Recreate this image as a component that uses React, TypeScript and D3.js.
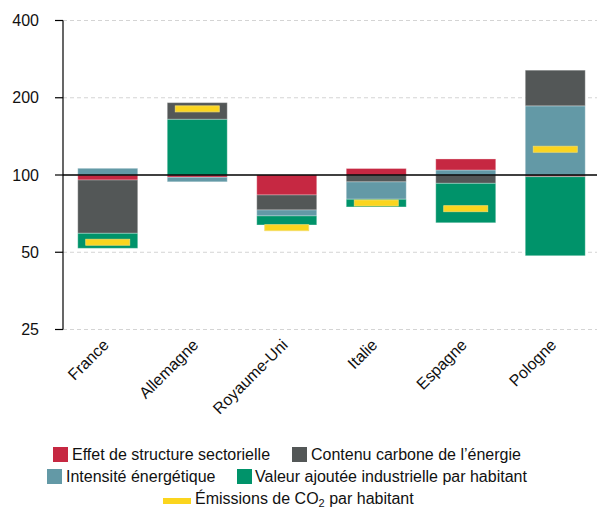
import React from "react";
import * as d3 from "d3";

const countries = ["France", "Allemagne", "Royaume-Uni", "Italie", "Espagne", "Pologne"];
// factor indices (100 = no change)
const structure = [95.6, 98, 83.6, 106, 110.4, 98.5];
const carbone = [62.0, 116, 87.4, 94, 92.8, 137.7];
const intensite = [106.2, 96, 94.8, 85.6, 104.6, 186];
const valeur = [87.4, 165, 92.2, 93.3, 70.2, 49.2];
const emissions = [54.7, 181, 62.3, 77.8, 73.9, 126];

const yTicks = [25, 50, 100, 200, 400];

const seriesNames = [
  "Effet de structure sectorielle",
  "Contenu carbone de l’énergie",
  "Intensité énergétique",
  "Valeur ajoutée industrielle par habitant",
];
const seriesColors = ["#c62842", "#535757", "#6399a6", "#00936a"];
const yellow = "#fbd51e";

const W = 597;
const H = 508;
const axisX = 63;

export default function App() {
  const y = d3.scaleLog().domain([25, 400]).range([329.5, 20.5]);
  const x = d3
    .scaleBand<string>()
    .domain(countries)
    .range([axisX, 600])
    .paddingInner(0.33)
    .paddingOuter(0.165);
  const bw = x.bandwidth();

  const series = [structure, carbone, intensite, valeur];

  const segments: { key: string; x: number; y0: number; y1: number; color: string }[] = [];
  countries.forEach((c, i) => {
    let down = 100;
    [0, 1, 2, 3].forEach((s) => {
      const v = series[s][i];
      if (v < 100) {
        const nxt = (down * v) / 100;
        segments.push({ key: `${c}-${s}`, x: x(c)!, y0: y(down), y1: y(nxt), color: seriesColors[s] });
        down = nxt;
      }
    });
    let up = 100;
    [3, 2, 1, 0].forEach((s) => {
      const v = series[s][i];
      if (v >= 100) {
        const nxt = (up * v) / 100;
        segments.push({ key: `${c}-${s}`, x: x(c)!, y0: y(nxt), y1: y(up), color: seriesColors[s] });
        up = nxt;
      }
    });
  });

  const font = "'Liberation Sans', Arial, Helvetica, sans-serif";
  const fs = 16;

  return (
    <svg
      width={W}
      height={H}
      style={{ position: "absolute", left: 0, top: 0, display: "block", fontFamily: font }}
    >
      <rect width={W} height={H} fill="#fff" />
      {yTicks
        .filter((t) => t !== 100)
        .map((t) => (
          <line
            key={`g${t}`}
            x1={axisX}
            x2={W}
            y1={y(t)}
            y2={y(t)}
            stroke="#d4d4d4"
            strokeWidth={1}
            strokeDasharray="4,3"
          />
        ))}
      {segments.map((s) => (
        <rect
          key={s.key}
          x={s.x}
          y={Math.min(s.y0, s.y1)}
          width={bw}
          height={Math.abs(s.y1 - s.y0)}
          fill={s.color}
          stroke="#ffffff"
          strokeOpacity={0.3}
          strokeWidth={1}
        />
      ))}
      {countries.map((c, i) => (
        <rect
          key={`e${c}`}
          x={x(c)! + bw / 2 - 22}
          y={y(emissions[i]) - 3}
          width={44}
          height={6}
          fill={yellow}
          stroke="#f3dc6a"
          strokeWidth={0.8}
        />
      ))}
      <line x1={axisX} x2={W} y1={y(100)} y2={y(100)} stroke="#000" strokeWidth={1.3} />
      <line x1={axisX} x2={axisX} y1={y(400)} y2={y(25)} stroke="#000" strokeWidth={1.2} />
      {yTicks.map((t) => (
        <g key={`t${t}`}>
          <line x1={55} x2={axisX} y1={y(t)} y2={y(t)} stroke="#000" strokeWidth={1.2} />
          <text x={39} y={y(t)} dy="0.35em" textAnchor="end" fontSize={fs} fill="#111">
            {t}
          </text>
        </g>
      ))}
      {countries.map((c) => {
        const cx = x(c)! + bw / 2 + 2;
        return (
          <text
            key={`l${c}`}
            transform={`translate(${cx},346) rotate(-45)`}
            textAnchor="end"
            fontSize={fs}
            fill="#111"
          >
            {c}
          </text>
        );
      })}
      <g fontSize={fs} fill="#111">
        <rect x={53} y={447} width={15} height={15} fill={seriesColors[0]} />
        <text x={72} y={460}>{seriesNames[0]}</text>
        <rect x={292} y={447} width={15} height={15} fill={seriesColors[1]} />
        <text x={311} y={460}>{seriesNames[1]}</text>
        <rect x={47} y={469} width={15} height={15} fill={seriesColors[2]} />
        <text x={66} y={482}>{seriesNames[2]}</text>
        <rect x={237} y={469} width={15} height={15} fill={seriesColors[3]} />
        <text x={255} y={482}>{seriesNames[3]}</text>
        <rect x={163} y={498} width={28} height={6} fill={yellow} />
        <text x={195} y={504}>
          Émissions de CO
          <tspan fontSize={11} dy={3}>2</tspan>
          <tspan dy={-3}> par habitant</tspan>
        </text>
      </g>
    </svg>
  );
}
